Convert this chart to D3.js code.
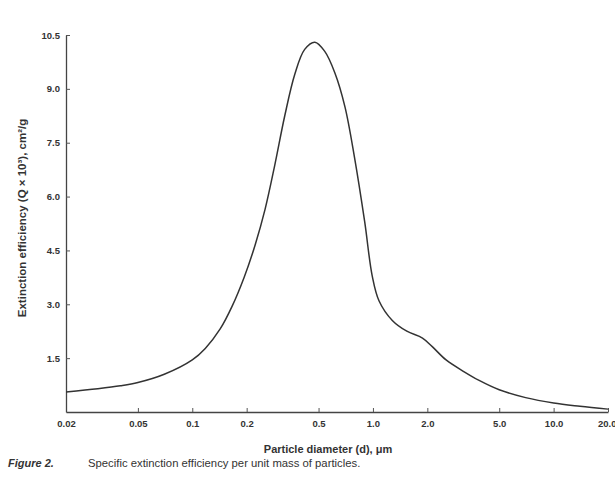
<!DOCTYPE html>
<html>
<head>
<meta charset="utf-8">
<script src="https://cdn.jsdelivr.net/npm/d3@7"></script>
<style>
  body { margin: 0; background: #fff; }
  svg text { font-family: "Liberation Sans", Arial, sans-serif; fill: #333; }
</style>
</head>
<body>
<div id="chart"></div>
<script>
// particle diameter (um) and extinction efficiency
const diameters = [0.02, 0.03, 0.04, 0.05, 0.07, 0.1, 0.118, 0.143, 0.166, 0.194, 0.223,
    0.253, 0.286, 0.325, 0.369, 0.419, 0.477, 0.54, 0.615, 0.70, 0.79, 0.90, 0.99, 1.08,
    1.28, 1.54, 1.88, 2.13, 2.54, 3.2, 3.87, 5.0, 7.0, 10, 14, 20];
const efficiency = [0.56, 0.65, 0.73, 0.82, 1.05, 1.45, 1.77, 2.32, 2.94, 3.76, 4.66,
    5.65, 6.87, 8.25, 9.4, 10.1, 10.3, 10.05, 9.45, 8.5, 7.1, 5.3, 3.8, 3.1,
    2.55, 2.25, 2.06, 1.82, 1.45, 1.12, 0.88, 0.62, 0.40, 0.25, 0.16, 0.08];
const xTicks = [0.02, 0.05, 0.1, 0.2, 0.5, 1.0, 2.0, 5.0, 10.0, 20.0];
const xTickLabels = ["0.02", "0.05", "0.1", "0.2", "0.5", "1.0", "2.0", "5.0", "10.0", "20.0"];
const yTicks = [1.5, 3.0, 4.5, 6.0, 7.5, 9.0, 10.5];

const width = 615, height = 493;
const margin = { left: 66, right: 7, top: 35, bottom: 81 };

const svg = d3.select("#chart").append("svg")
    .attr("width", width)
    .attr("height", height);

const x = d3.scaleLog().domain([0.02, 20]).range([margin.left, width - margin.right]);
const y = d3.scaleLinear().domain([0, 10.5]).range([height - margin.bottom, margin.top]);

// x axis, ticks point inward
const xAxis = svg.append("g")
    .attr("transform", `translate(0,${y(0)})`)
    .call(d3.axisBottom(x).tickValues(xTicks).tickFormat((d, i) => xTickLabels[i]).tickSizeInner(-4).tickSizeOuter(0).tickPadding(8));
xAxis.select(".domain").attr("stroke", "#444").attr("stroke-width", 1.3);
xAxis.selectAll(".tick line").attr("stroke", "#555");
xAxis.selectAll("text").attr("font-size", 9.5).attr("font-weight", "bold").attr("fill", "#333");
// last label sits at the page edge
xAxis.selectAll(".tick").filter(d => d === 20).select("text").attr("text-anchor", "end").attr("dx", 8);

// y axis
const yAxis = svg.append("g")
    .attr("transform", `translate(${x(0.02)},0)`)
    .call(d3.axisLeft(y).tickValues(yTicks).tickFormat(d3.format(".1f")).tickSizeInner(-4).tickSizeOuter(0).tickPadding(6));
yAxis.select(".domain").attr("stroke", "#444").attr("stroke-width", 1.3);
yAxis.selectAll(".tick line").attr("stroke", "#555");
yAxis.selectAll("text").attr("font-size", 9.5).attr("font-weight", "bold").attr("fill", "#333");

const line = d3.line()
    .x((d, i) => x(diameters[i]))
    .y(d => y(d))
    .curve(d3.curveCatmullRom.alpha(0.5));

svg.append("path")
    .datum(efficiency)
    .attr("d", line)
    .attr("fill", "none")
    .attr("stroke", "#333")
    .attr("stroke-width", 1.5);

// axis titles
svg.append("text")
    .attr("x", 328).attr("y", 453)
    .attr("text-anchor", "middle")
    .attr("font-size", 11).attr("font-weight", "bold")
    .text("Particle diameter (d), \u03bcm");

svg.append("text")
    .attr("transform", "translate(26,218) rotate(-90)")
    .attr("text-anchor", "middle")
    .attr("font-size", 11.5).attr("font-weight", "bold")
    .text("Extinction efficiency (Q \u00d7 10\u00b3), cm\u00b2/g");

// caption
svg.append("text")
    .attr("x", 8).attr("y", 467)
    .attr("font-size", 11).attr("font-weight", "bold").attr("font-style", "italic")
    .text("Figure 2.");
svg.append("text")
    .attr("x", 88).attr("y", 467)
    .attr("font-size", 11.3)
    .text("Specific extinction efficiency per unit mass of particles.");
</script>
</body>
</html>
